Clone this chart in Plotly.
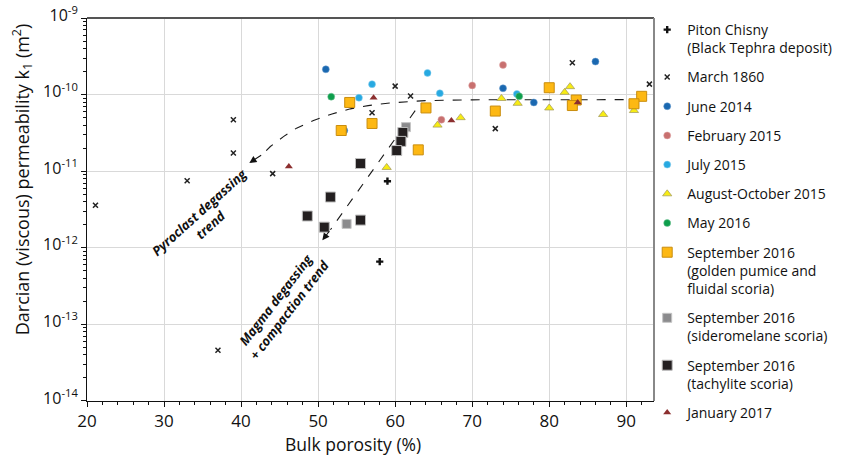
import math
import plotly.graph_objects as go

FONT = "Open Sans"

# ---------------- data ----------------
chisny_x = [59.0, 58.0]
chisny_k = [7.4e-12, 6.6e-13]

m1860_x = [21.1, 33.0, 37.0, 39.0, 39.0, 44.1, 57.0, 60.0, 62.0, 73.0, 83.0, 93.0]
m1860_k = [3.6e-12, 7.5e-12, 4.6e-14, 1.73e-11, 4.7e-11, 9.3e-12, 5.8e-11, 1.29e-10, 9.6e-11, 3.6e-11, 2.6e-10, 1.37e-10]

jun2014_x = [51.0, 53.4, 74.0, 78.0, 86.0]
jun2014_k = [2.14e-10, 3.4e-11, 1.21e-10, 7.9e-11, 2.7e-10]

feb2015_x = [74.0, 70.0, 66.0]
feb2015_k = [2.44e-10, 1.32e-10, 4.7e-11]

jul2015_x = [64.2, 57.0, 55.3, 65.8, 75.8]
jul2015_k = [1.92e-10, 1.37e-10, 9.1e-11, 1.04e-10, 1.02e-10]

aug2015_x = [73.8, 75.9, 68.5, 65.5, 80.0, 82.0, 82.7, 87.0, 91.0, 58.9]
aug2015_k = [8.9e-11, 7.7e-11, 5.0e-11, 4.0e-11, 6.7e-11, 1.07e-10, 1.27e-10, 5.5e-11, 6.2e-11, 1.12e-11]

may2016_x = [51.7, 76.1]
may2016_k = [9.4e-11, 9.5e-11]

sep2016_gold_x = [54.1, 57.0, 53.0, 64.0, 63.0, 73.0, 80.0, 83.5, 83.0, 92.0, 91.0]
sep2016_gold_k = [7.9e-11, 4.2e-11, 3.4e-11, 6.7e-11, 1.9e-11, 6.1e-11, 1.23e-10, 8.5e-11, 7.2e-11, 9.5e-11, 7.6e-11]

sep2016_sidero_x = [61.4, 53.7]
sep2016_sidero_k = [3.76e-11, 2.05e-12]

sep2016_tachy_x = [61.0, 60.75, 60.2, 55.5, 51.6, 48.6, 50.8, 55.5]
sep2016_tachy_k = [3.2e-11, 2.45e-11, 1.86e-11, 1.26e-11, 4.6e-12, 2.6e-12, 1.86e-12, 2.3e-12]

jan2017_x = [46.2, 57.2, 67.3, 83.7]
jan2017_k = [1.15e-11, 9.1e-11, 4.6e-11, 7.9e-11]

# trend guides
pyro_trend_x = [92.0, 80.0, 70.0, 63.9, 61.4, 59.0, 56.5, 54.2, 51.8, 49.4, 47.2, 45.5, 43.8, 42.8]
pyro_trend_k = [8.6e-11, 8.6e-11, 8.55e-11, 8.36e-11, 8.11e-11, 7.73e-11, 7.19e-11, 6.52e-11, 5.6e-11, 4.58e-11, 3.65e-11, 2.83e-11, 2.1e-11, 1.66e-11]
pyro_arrow_tip = (41.07, 1.28e-11)

magma_trend_x = [62.6, 51.6]
magma_trend_k = [6.17e-11, 1.72e-12]
magma_arrow_tip = (50.55, 1.25e-12)

x_ticks = [20, 30, 40, 50, 60, 70, 80, 90]
y_ticks = [1e-14, 1e-13, 1e-12, 1e-11, 1e-10, 1e-9]
y_ticktext = ["10<sup>-14</sup>", "10<sup>-13</sup>", "10<sup>-12</sup>",
              "10<sup>-11</sup>", "10<sup>-10</sup>", "10<sup>-9</sup>"]

# ---------------- figure ----------------
fig = go.Figure()

fig.add_trace(go.Scatter(x=pyro_trend_x, y=pyro_trend_k, mode="lines",
                         line=dict(color="#1a1a1a", width=1.1, dash="dash"),
                         showlegend=False, hoverinfo="skip"))
fig.add_trace(go.Scatter(x=magma_trend_x, y=magma_trend_k, mode="lines",
                         line=dict(color="#1a1a1a", width=1.1, dash="dash"),
                         showlegend=False, hoverinfo="skip"))

def add(name, xs, ks, symbol, size, color, lcolor=None, lwidth=0):
    fig.add_trace(go.Scatter(
        x=xs, y=ks, mode="markers", name=name, legendgroup=name,
        marker=dict(symbol=symbol, size=size, color=color,
                    line=dict(color=lcolor or color, width=lwidth))))

add("Piton Chisny<br>(Black Tephra deposit)", chisny_x, chisny_k, "cross", 6, "#111111")
add("March 1860", m1860_x, m1860_k, "x-thin", 5, "#222222", "#222222", 1.5)
add("June 2014", jun2014_x, jun2014_k, "circle", 7, "#1a68b0", "#6d9fd0", 0.5)
add("February 2015", feb2015_x, feb2015_k, "circle", 7, "#c8706f", "#e0a8a8", 0.5)
add("July 2015", jul2015_x, jul2015_k, "circle", 7, "#27a9e1", "#8fd0ee", 0.5)
add("August-October 2015", aug2015_x, aug2015_k, "triangle-up", 8, "#f7ec13", "#a8a060", 0.8)
add("May 2016", may2016_x, may2016_k, "circle", 7, "#0e9e4c", "#7cc79c", 0.5)
add("September 2016<br>(golden pumice and<br>fluidal scoria)", sep2016_gold_x, sep2016_gold_k,
    "square", 10, "#fdb813", "#c98d0e", 1)
add("September 2016<br>(sideromelane scoria)", sep2016_sidero_x, sep2016_sidero_k,
    "square", 9, "#8b8b8d", "#c4c4c4", 1)
add("September 2016<br>(tachylite scoria)", sep2016_tachy_x, sep2016_tachy_k,
    "square", 10, "#231f20", "#bdbdbd", 1)
add("January 2017", jan2017_x, jan2017_k, "triangle-up", 7, "#8c2f2f", "#8c2f2f", 0)

ann = []
ann.append(dict(x=pyro_arrow_tip[0], y=math.log10(pyro_arrow_tip[1]),
                ax=pyro_trend_x[-1], ay=math.log10(pyro_trend_k[-1]),
                xref="x", yref="y", axref="x", ayref="y", text="",
                showarrow=True, arrowhead=2, arrowsize=1.3, arrowwidth=1.1, arrowcolor="#111111"))
ann.append(dict(x=magma_arrow_tip[0], y=math.log10(magma_arrow_tip[1]),
                ax=magma_trend_x[-1], ay=math.log10(magma_trend_k[-1]),
                xref="x", yref="y", axref="x", ayref="y", text="",
                showarrow=True, arrowhead=2, arrowsize=1.3, arrowwidth=1.1, arrowcolor="#111111"))
ann.append(dict(x=35.3, y=-11.62, xref="x", yref="y", showarrow=False,
                text="<b><i>Pyroclast degassing<br>trend</i></b>", textangle=-42,
                font=dict(family=FONT, size=13, color="#111111"), align="center"))
ann.append(dict(x=45.4, y=-12.74, xref="x", yref="y", showarrow=False,
                text="<b><i>Magma degassing<br>+ compaction trend</i></b>", textangle=-52.5,
                font=dict(family=FONT, size=13, color="#111111"), align="center"))
ann.append(dict(x=-0.1153, y=0.578, xref="paper", yref="paper", showarrow=False,
                xanchor="center", yanchor="middle",
                text="Darcian (viscous) permeability k<sub>1</sub> (m<sup>2</sup>)", textangle=-90,
                font=dict(family=FONT, size=18, color="#111111")))
ann.append(dict(x=0.47, y=-0.1134, xref="paper", yref="paper", showarrow=False,
                xanchor="center", yanchor="middle",
                text="Bulk porosity (%)", font=dict(family=FONT, size=17.5, color="#111111")))

fig.update_layout(
    width=849, height=463,
    margin=dict(l=87.3, r=195.3, t=18, b=61.5, autoexpand=False),
    paper_bgcolor="white", plot_bgcolor="white",
    font=dict(family=FONT, size=16, color="#111111"),
    annotations=ann,
    legend=dict(x=0.988, xanchor="left", y=1.0104, yanchor="top",
                font=dict(family=FONT, size=14, color="#111111"),
                bgcolor="rgba(0,0,0,0)", valign="top", tracegroupgap=8,
                traceorder="grouped", maxheight=450),
    shapes=[
        dict(type="line", xref="paper", yref="paper", x0=0, x1=1, y0=1, y1=1,
             line=dict(color="#555555", width=2)),
        dict(type="line", xref="paper", yref="paper", x0=1, x1=1, y0=0, y1=1,
             line=dict(color="#888888", width=2)),
    ],
)

fig.update_xaxes(range=[20, 93.6], tickmode="array", tickvals=x_ticks,
                 showgrid=True, gridcolor="#d9d9d9", gridwidth=1,
                 showline=True, linecolor="#111111", linewidth=1,
                 ticks="outside", ticklen=5, tickcolor="#111111",
                 tickfont=dict(family=FONT, size=17),
                 minor=dict(dtick=2, tick0=20, ticks="outside", ticklen=3, tickcolor="#111111", showgrid=False),
                 zeroline=False)
fig.update_yaxes(type="log", range=[-14.0004, -8.9996], tickmode="array", tickvals=y_ticks, ticktext=y_ticktext,
                 showgrid=True, gridcolor="#d9d9d9", gridwidth=1,
                 showline=True, linecolor="#111111", linewidth=1,
                 ticks="outside", ticklen=5, tickcolor="#111111",
                 tickfont=dict(family=FONT, size=16),
                 ticklabelshift=-3, ticklabeloverflow="allow",
                 minor=dict(dtick="D1", ticks="outside", ticklen=3, tickcolor="#111111", showgrid=False),
                 zeroline=False)

# remove the browser's default 8px page margin so the figure sits at the window origin
fig.write_html("out.html", config={"displayModeBar": False},
               post_script="document.body.style.margin='0';")
